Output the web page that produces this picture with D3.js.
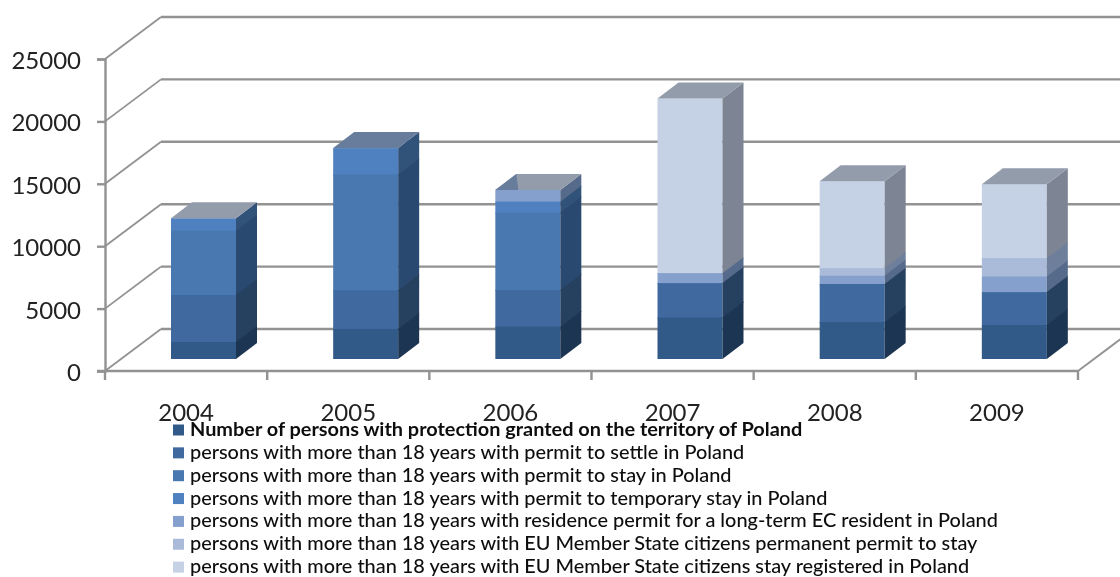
<!DOCTYPE html>
<html><head><meta charset="utf-8">
<script src="https://cdn.jsdelivr.net/npm/d3@7/dist/d3.min.js"></script>
<style>html,body{margin:0;padding:0;background:#fff;overflow:hidden}svg{display:block}</style>
</head><body>
<svg id="c" width="1120" height="577"></svg>
<script>
const years = ["2004","2005","2006","2007","2008","2009"];
const seriesNames = [
 "Number of persons with protection granted on the territory of Poland",
 "persons with more than 18 years with permit to settle in Poland",
 "persons with more than 18 years with permit to stay in Poland",
 "persons with more than 18 years with permit to temporary stay in Poland",
 "persons with more than 18 years with residence permit for a long-term EC resident in Poland",
 "persons with more than 18 years with EU Member State citizens permanent permit to stay",
 "persons with more than 18 years with EU Member State citizens stay registered in Poland"
];
const protection = [1360,2400,2590,3320,2960,2720];
const settle     = [3770,3100,2940,2760,3050,2640];
const stay       = [5150,9280,6200,0,0,0];
const temporary  = [1000,2120,880,0,0,0];
const longTerm   = [0,0,940,800,660,1250];
const permanent  = [0,0,0,0,610,1470];
const registered = [0,0,0,14000,6970,5930];
const seriesValues = [protection,settle,stay,temporary,longTerm,permanent,registered];
const frontColors = ["#335a88","#3f6a9f","#4878b0","#4f80bf","#85a0cc","#aabbd9","#c5d1e4"];
const sideColors  = ["#1f3553","#263f60","#2c4a70","#315279","#566a8c","#6e7f9c","#7d8594"];
const topColors   = ["#939cab","#687b9c","#939cab","#939cab","#939cab","#939cab"];
const yTicks = [0,5000,10000,15000,20000,25000];

const FONT = "Lato, 'Open Sans', sans-serif";
const svg = d3.select("#c");
const defs = svg.append("defs");
defs.append("filter").attr("id","soft").attr("x","-2%").attr("y","-2%").attr("width","104%").attr("height","104%")
  .append("feGaussianBlur").attr("stdDeviation",0.5);
const root = svg.append("g").attr("filter","url(#soft)");

const x = d3.scaleBand().domain(years).range([105,1078]);
const y = d3.scaleLinear().domain([0,25000]).range([371,59]);
const wallDx = 56, wallDy = -42;
const barDx = 21, barDy = -16;
const barInsetX = 66, barW = 65, barLift = 12;

const grid = "#929292";
yTicks.forEach(t=>{
  const yy = y(t);
  root.append("line").attr("x1",105+wallDx).attr("x2",1140).attr("y1",yy+wallDy).attr("y2",yy+wallDy)
    .attr("stroke",grid).attr("stroke-width",2.4);
  root.append("line").attr("x1",105).attr("x2",105+wallDx).attr("y1",yy).attr("y2",yy+wallDy)
    .attr("stroke",grid).attr("stroke-width",1.8);
});
root.append("line").attr("x1",97).attr("x2",1078).attr("y1",y(0)).attr("y2",y(0)).attr("stroke",grid).attr("stroke-width",2.4);
root.append("line").attr("x1",1078).attr("x2",1078+wallDx).attr("y1",y(0)).attr("y2",y(0)+wallDy).attr("stroke",grid).attr("stroke-width",1.8);
const yAxis = d3.axisLeft(y).tickValues(yTicks).tickSize(8).tickPadding(16).tickFormat(d3.format("d"));
const ya = root.append("g").attr("transform","translate(105,1)").call(yAxis);
ya.selectAll("path,line").attr("stroke",grid).attr("stroke-width",2.4);
ya.select("path").attr("transform","translate(0,-1)");
ya.selectAll(".tick line").attr("transform","translate(0,-1)");
ya.selectAll("text").attr("font-family",FONT).attr("font-size",24).attr("fill","#222").attr("dy","0.35em");
const xAxis = d3.axisBottom(x).tickSize(0).tickPadding(43);
const xa = root.append("g").attr("transform","translate(0,371)").call(xAxis);
xa.select("path").remove();
xa.selectAll("text").attr("font-family",FONT).attr("font-size",24).attr("fill","#222").attr("dy","0.3em");
x.domain().concat("end").forEach((d,i)=>{
  const xx = 105 + i*x.bandwidth();
  root.append("line").attr("x1",xx).attr("x2",xx).attr("y1",371).attr("y2",380).attr("stroke",grid).attr("stroke-width",2.4);
});

const stacked = d3.stack().keys(d3.range(seriesValues.length)).value((row,k)=>row[k])(
  years.map((_,i)=>seriesValues.map(s=>s[i])));
const pts = a=>a.map(p=>p.join(",")).join(" ");
years.forEach((yr,i)=>{
  const g = root.append("g");
  const x0 = x(yr)+barInsetX, x1 = x0+barW;
  // paint from the top down, each slab running 1px under the next one, so no seams show
  stacked.slice().reverse().forEach(s=>{
    const k = s.key;
    const [a,b] = s[i];
    if(b<=a) return;
    const yb = y(a)-barLift, yt = y(b)-barLift;
    const over = k>0 ? 1 : 0;
    g.append("rect").attr("x",x0).attr("y",yt).attr("width",barW).attr("height",yb-yt+over).attr("fill",frontColors[k]);
    g.append("polygon").attr("points",pts([[x1,yb+over],[x1+barDx,yb+barDy+over],[x1+barDx,yt+barDy],[x1,yt]])).attr("fill",sideColors[k]);
  });
  const total = d3.sum(seriesValues,s=>s[i]);
  const yt = y(total)-barLift;
  g.append("polygon").attr("points",pts([[x0,yt],[x0+barDx,yt+barDy],[x1+barDx,yt+barDy],[x1,yt]])).attr("fill",topColors[i]);
  if(yr==="2006"){
    g.append("polygon").attr("points",pts([[x0,yt],[x0+barDx,yt+barDy],[x0+barDx+2,yt]])).attr("fill","#687b9c");
  }
});

const legend = root.append("g");
seriesNames.forEach((n,i)=>{
  const yy = 430 + i*22.85;
  legend.append("rect").attr("x",173).attr("y",yy-5.5).attr("width",11).attr("height",11).attr("fill",frontColors[i]);
  legend.append("text").attr("x",190).attr("y",yy+6).text(n)
    .attr("font-family",FONT).attr("font-size",19.9).attr("font-weight",i===0?700:500).attr("fill","#111");
});
</script>
</body></html>
